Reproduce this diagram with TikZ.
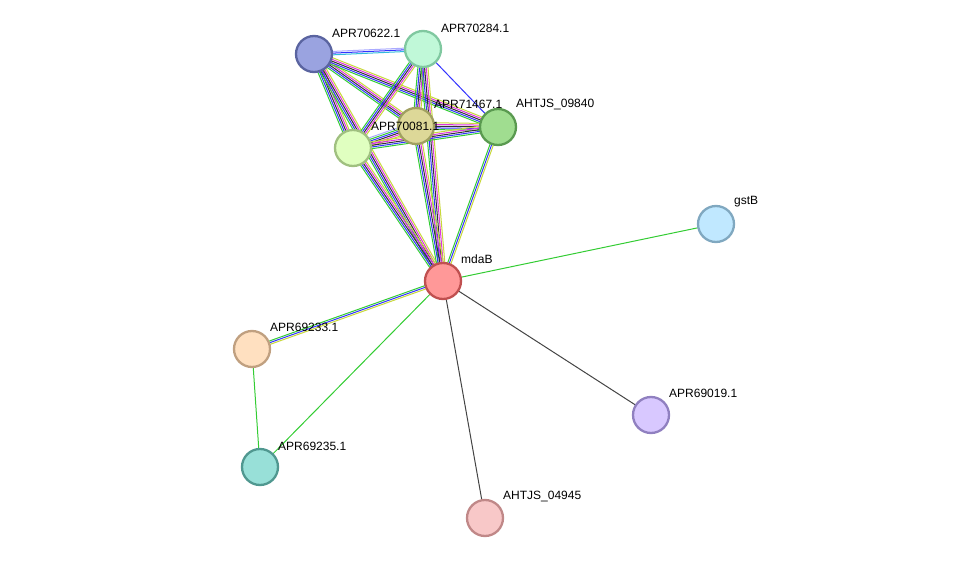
\documentclass[tikz,border=0pt]{standalone}
\usepackage{fontspec}
\setmainfont{Liberation Sans}
\usetikzlibrary{calc}
\definecolor{sg}{HTML}{33CC33}\definecolor{sb}{HTML}{3333FF}\definecolor{sk}{HTML}{333333}
\definecolor{sm}{HTML}{DD33DD}\definecolor{sc}{HTML}{33BBDD}\definecolor{sy}{HTML}{C8D83A}
\definecolor{sl}{HTML}{AAAAFF}\definecolor{sgr}{HTML}{444444}
\newcommand\medge[4]{\foreach \cc [count=\ii] in {#4}{%
  \pgfmathsetmacro\oo{(\ii-1)*1.7-(#3-1)*0.85}%
  \draw[\cc,line width=1pt] ($(#1)!\oo pt!90:(#2)$) -- ($(#2)!\oo pt!-90:(#1)$);}}
\tikzset{pn/.style={circle,minimum size=36pt,inner sep=0pt,line width=2.3pt},
 lb/.style={anchor=west,font=\fontsize{12}{14}\selectfont,inner sep=0pt}}
\begin{document}
\begin{tikzpicture}[x=1pt,y=-1pt]
\useasboundingbox (0,0) rectangle (975,564);
\coordinate (a) at (314,54); \coordinate (b) at (423,49); \coordinate (c) at (416,126);
\coordinate (d) at (498,127); \coordinate (e) at (353,148); \coordinate (f) at (716,224);
\coordinate (m) at (443,281); \coordinate (g) at (252,349); \coordinate (h) at (260,467);
\coordinate (i) at (651,415); \coordinate (j) at (485,518);
\medge{a}{b}{3}{sc,sb,sl}
\medge{a}{c}{5}{sg,sb,sk,sm,sy}
\medge{a}{d}{5}{sg,sb,sk,sm,sy}
\medge{a}{e}{5}{sg,sb,sk,sm,sy}
\medge{a}{m}{5}{sg,sb,sk,sm,sy}
\medge{b}{e}{5}{sg,sb,sk,sm,sy}
\medge{b}{c}{5}{sg,sb,sk,sm,sy}
\medge{b}{d}{1}{sb}
\medge{b}{m}{5}{sg,sb,sk,sm,sy}
\medge{c}{d}{5}{sg,sb,sk,sm,sy}
\medge{c}{e}{6}{sl,sg,sb,sk,sm,sy}
\medge{c}{m}{5}{sg,sb,sk,sm,sy}
\medge{e}{d}{5}{sg,sb,sk,sm,sy}
\medge{e}{m}{5}{sg,sb,sk,sm,sy}
\medge{d}{m}{3}{sg,sb,sy}
\medge{m}{f}{1}{sg}
\medge{m}{g}{3}{sg,sb,sy}
\medge{m}{h}{1}{sg}
\medge{g}{h}{1}{sg}
\medge{m}{i}{1}{sgr}
\medge{m}{j}{1}{sgr}
\node[pn,fill={rgb,255:red,154;green,163;blue,224},draw={rgb,255:red,90;green,100;blue,160}] (na) at (a) {};
\node[pn,fill={rgb,255:red,192;green,248;blue,216},draw={rgb,255:red,128;green,200;blue,160}] (nb) at (b) {};
\node[pn,fill={rgb,255:red,221;green,216;blue,152},draw={rgb,255:red,160;green,160;blue,96}] (nc) at (c) {};
\node[pn,fill={rgb,255:red,160;green,221;blue,144},draw={rgb,255:red,90;green,154;blue,80}] (nd) at (d) {};
\node[pn,fill={rgb,255:red,224;green,255;blue,192},draw={rgb,255:red,160;green,192;blue,128}] (ne) at (e) {};
\node[pn,fill={rgb,255:red,192;green,232;blue,255},draw={rgb,255:red,128;green,168;blue,192}] (nf) at (f) {};
\node[pn,fill={rgb,255:red,255;green,152;blue,152},draw={rgb,255:red,192;green,80;blue,80}] (nm) at (m) {};
\node[pn,fill={rgb,255:red,255;green,224;blue,192},draw={rgb,255:red,192;green,160;blue,128}] (ng) at (g) {};
\node[pn,fill={rgb,255:red,152;green,224;blue,216},draw={rgb,255:red,80;green,152;blue,144}] (nh) at (h) {};
\node[pn,fill={rgb,255:red,216;green,200;blue,255},draw={rgb,255:red,144;green,128;blue,192}] (ni) at (i) {};
\node[pn,fill={rgb,255:red,248;green,200;blue,200},draw={rgb,255:red,192;green,136;blue,136}] (nj) at (j) {};
\node[lb] (la) at (332,33) {APR70622.1};
\node[lb] (lb) at (441,28) {APR70284.1};
\node[lb] (lc) at (434,104) {APR71467.1};
\node[lb] (ld) at (516,105) {AHTJS\_09840};
\node[lb] (le) at (371,126) {APR70081.1};
\node[lb] (lf) at (734,202) {gstB};
\node[lb] (lm) at (461,259) {mdaB};
\node[lb] (lg) at (270,327) {APR69233.1};
\node[lb] (lh) at (278,446) {APR69235.1};
\node[lb] (li) at (669,393) {APR69019.1};
\node[lb] (lj) at (503,497) {AHTJS\_04945};
\end{tikzpicture}
\end{document}
